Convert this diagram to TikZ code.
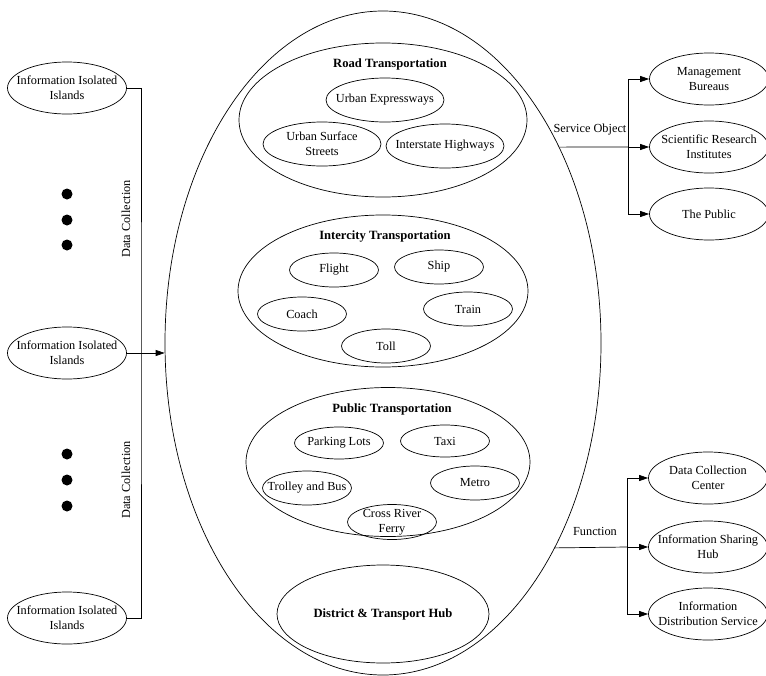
\documentclass[tikz,border=0pt]{standalone}
\usepackage{fontspec}
\setmainfont{Liberation Serif}
\usetikzlibrary{shapes.geometric,arrows.meta}
\begin{document}
\begin{tikzpicture}
[
	x=1pt,y=-1pt,
	every node/.style={font=\fontsize{12.3}{14.8}\selectfont,align=center},
	ttl/.style={font=\fontsize{12.6}{15}\selectfont\bfseries},
	el/.style={ellipse,draw,line width=0.7,inner sep=-20pt},
	isl/.style={el,minimum width=119,minimum height=52},
	md/.style={el,minimum width=89,minimum height=34},
	rd/.style={el,minimum width=118,minimum height=44},
	ln/.style={line width=0.7},
	arr/.style={line width=0.7,-{Triangle[length=9pt,width=6pt]}}
]
\useasboundingbox (0,0) rectangle (766,675);

\node[el,minimum width=436,minimum height=664] (city) at (383,343) {};

% road
\node[el,minimum width=288,minimum height=154] (road) at (383,120) {};
\node[ttl] (roadt) at (390,64) {Road Transportation};
\node[rd] (uexp) at (385,100) {Urban Expressways};
\node[rd] (usurf) at (322,144) {Urban Surface\\Streets};
\node[rd] (ihw) at (445,146) {Interstate Highways};

% intercity
\node[el,minimum width=290,minimum height=152] (inter) at (383,291) {};
\node[ttl] (intert) at (385,236) {Intercity Transportation};
\node[md] (flight) at (334,270) {Flight};
\node[md] (ship) at (439,267) {Ship};
\node[md] (coach) at (302,314) {Coach};
\node[md] (train) at (468,309) {Train};
\node[md] (toll) at (386,346) {Toll};

% public
\node[el,minimum width=284,minimum height=149] (pub) at (388,462) {};
\node[ttl] (pubt) at (392,409) {Public Transportation};
\node[md,minimum height=32] (park) at (339,443) {Parking Lots};
\node[md,minimum height=32] (taxi) at (445,441) {Taxi};
\node[md] (trol) at (307,488) {Trolley and Bus};
\node[md] (metro) at (475,483) {Metro};
\node[md,minimum height=35] (ferry) at (392,522) {Cross River\\Ferry};

\node[el,ttl,minimum width=212,minimum height=98] (hub) at (383,614) {District \& Transport Hub};

% islands
\node[isl] (isl1) at (67,88) {Information Isolated\\Islands};
\node[isl] (isl2) at (67,353) {Information Isolated\\Islands};
\node[isl] (isl3) at (67,618) {Information Isolated\\Islands};

\foreach \y in {194,220,245,454,480,506}
	\fill (67,\y) circle (5.5);

\coordinate (lbus) at (141,353);
\draw[ln] (isl1.east) -| (lbus) |- (isl3.east);
\draw[arr] (isl2.east) -- (isl2.east -| city.west);

\node[rotate=90] (dc1) at (126,219) {Data Collection};
\node[rotate=90] (dc2) at (126,480) {Data Collection};

% service object
\node[isl] (mgmt) at (709,79) {Management\\Bureaus};
\node[isl] (sci) at (709,147) {Scientific Research\\Institutes};
\node[isl] (pubs) at (709,214) {The Public};

\coordinate (sbus) at (628,147);
\draw[ln] (city.48) -- (sbus);
\draw[arr] (sbus) |- (mgmt);
\draw[arr] (sbus) -- (sci);
\draw[arr] (sbus) |- (pubs);
\node (sobj) at (590,130) {Service Object};

% function
\node[isl] (dcc) at (708,478) {Data Collection\\Center};
\node[isl] (ish) at (708,547) {Information Sharing\\Hub};
\node[isl] (ids) at (708,614) {Information\\Distribution Service};

\coordinate (fbus) at (627,547);
\draw[ln] (city.-50) -- (fbus);
\draw[arr] (fbus) |- (dcc);
\draw[arr] (fbus) -- (ish);
\draw[arr] (fbus) |- (ids);
\node (func) at (595,531) {Function};

\end{tikzpicture}
\end{document}
